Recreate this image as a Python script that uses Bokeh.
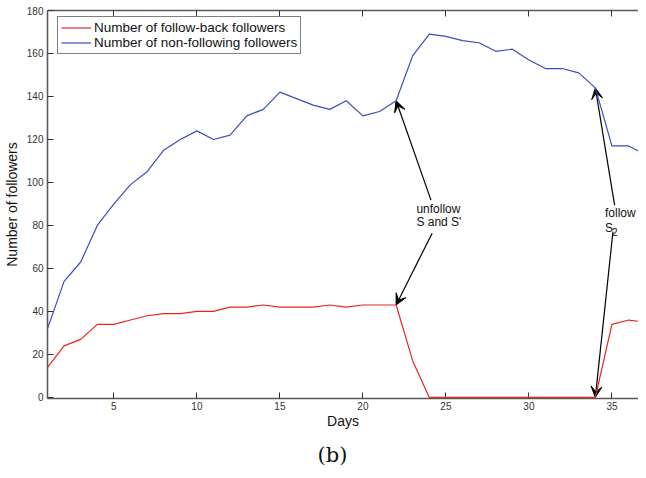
from bokeh.plotting import figure
from bokeh.models import LinearAxis, Range1d, Arrow, VeeHead, Title, FixedTicker, CustomLabelingPolicy
from bokeh.core.properties import value
from bokeh.embed import file_html
from bokeh.resources import INLINE

# ---- data ----
days = list(range(1, 38))
follow_back = [14, 24, 27, 34, 34, 36, 38, 39, 39, 40,
               40, 42, 42, 43, 42, 42, 42, 43, 42, 43,
               43, 43, 17, 0, 0, 0, 0, 0, 0, 0,
               0, 0, 0, 0, 34, 36, 35]
non_following = [32, 54, 63, 80, 90, 99, 105, 115, 120, 124,
                 120, 122, 131, 134, 142, 139, 136, 134, 138, 131,
                 133, 138, 159, 169, 168, 166, 165, 161, 162, 157,
                 153, 153, 151, 144, 117, 117, 113]
series_labels = ["Number of follow-back followers", "Number of non-following followers"]
x_ticks = [5, 10, 15, 20, 25, 30, 35]
y_ticks = [0, 20, 40, 60, 80, 100, 120, 140, 160, 180]
unfollow_day = 22
follow_day = 34

FONT = "Liberation Sans"
RED = "#e5281f"
BLUE = "#3a4cc0"

p = figure(width=638, height=476, output_backend="svg", toolbar_location=None,
           x_range=Range1d(1, 36.6), y_range=Range1d(-0.5, 180),
           min_border_left=36, min_border_right=0, min_border_top=10, min_border_bottom=78,
           x_axis_label="Days", y_axis_label="Number of followers")
p.grid.visible = False
p.outline_line_color = None
p.background_fill_color = "white"

r1 = p.line(days, follow_back, line_color=RED, line_width=1.2, legend_label=series_labels[0])
r2 = p.line(days, non_following, line_color=BLUE, line_width=1.2, legend_label=series_labels[1])
r1.level = "overlay"
r2.level = "overlay"

top_axis = LinearAxis()
p.add_layout(top_axis, "above")

for ax in p.xaxis:
    ax.ticker = FixedTicker(ticks=x_ticks)
for ax in p.yaxis:
    ax.ticker = FixedTicker(ticks=y_ticks)

for ax in list(p.xaxis) + list(p.yaxis):
    ax.axis_line_color = "#5a5a5a"
    ax.axis_line_width = 1.6
    ax.major_tick_in = 6
    ax.major_tick_out = 0
    ax.major_tick_line_color = "#333333"
    ax.minor_tick_line_color = None
    ax.major_label_text_font = FONT
    ax.major_label_text_font_size = "10px"
    ax.major_label_text_color = "#333333"
    ax.axis_label_text_font = FONT
    ax.axis_label_text_font_size = "14px"
    ax.axis_label_text_font_style = "normal"
    ax.axis_label_text_color = "#111111"

# top axis: ticks only, no labels
top_axis.major_label_text_font_size = "0px"
top_axis.major_label_standoff = 0
top_axis.major_label_policy = CustomLabelingPolicy(code="""
for (const i of indices)
  indices.unset(i)
""")

p.below[0].major_label_standoff = 3
p.below[0].axis_label_standoff = 0
p.left[0].major_label_standoff = 4
p.left[0].axis_label_standoff = 4

# legend
lg = p.legend[0]
lg.location = (10, 344)
lg.margin = 0
lg.border_line_color = "black"
lg.border_line_width = 1
lg.background_fill_color = "white"
lg.background_fill_alpha = 1
lg.label_text_font = FONT
lg.label_text_font_size = "13.5px"
lg.label_text_color = "#111111"
lg.glyph_width = 30
lg.glyph_height = 13
lg.label_height = 13
lg.label_standoff = 3
lg.spacing = 0
lg.padding = 3

# annotations
i1 = days.index(unfollow_day)
i2 = days.index(follow_day)
arrow_style = dict(line_color="black", line_width=1.2)

def head():
    return VeeHead(size=11, fill_color="black", line_color="black", line_width=1)

p.add_layout(Arrow(end=head(), x_start=24.1, y_start=91.8,
                   x_end=days[i1], y_end=non_following[i1], **arrow_style))
p.add_layout(Arrow(end=head(), x_start=24.17, y_start=76.4,
                   x_end=days[i1], y_end=follow_back[i1], **arrow_style))
p.add_layout(Arrow(end=head(), x_start=35.16, y_start=89.5,
                   x_end=days[i2], y_end=non_following[i2], **arrow_style))
p.add_layout(Arrow(end=head(), x_start=35.06, y_start=77.1,
                   x_end=days[i2], y_end=follow_back[i2], **arrow_style))

txt = dict(text_font=value(FONT), text_font_size="12px", text_color="#111111",
           text_align="left", text_baseline="middle")
p.text(x=[23.22, 23.22], y=[87.7, 81.6], text=["unfollow", "S and S'"], **txt)
p.text(x=[34.58, 34.58], y=[85.8, 78.8], text=["follow", "S"], **txt)
p.text(x=[35.0], y=[76.8], text=["2"], text_font=value(FONT), text_font_size="10px",
       text_color="#111111", text_align="left", text_baseline="middle")

cap = Title(text="(b)", align="left", offset=270, text_font="DejaVu Serif",
            text_font_size="21px", text_font_style="normal", text_color="#111111",
            standoff=18)
p.add_layout(cap, "below")

open("out.html", "w").write(file_html(p, INLINE))
